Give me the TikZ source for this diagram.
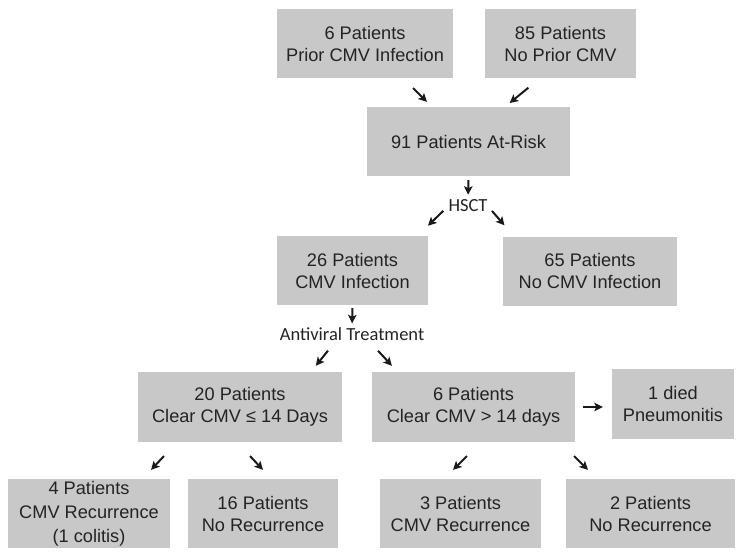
\documentclass[tikz,border=0pt]{standalone}
\usepackage{fontspec}
\setmainfont{Liberation Sans}
\newfontfamily\labelfont{Carlito}
\usetikzlibrary{arrows.meta,positioning}
\definecolor{boxgray}{RGB}{200,200,200}
\definecolor{textgray}{RGB}{35,35,35}
\definecolor{arrowgray}{RGB}{25,25,25}

\begin{document}
\begin{tikzpicture}[x=1pt,y=-1pt,
  box/.style={rectangle, fill=boxgray, text=textgray, align=center, inner sep=0pt,
    minimum height=69pt, font=\fontsize{18.2}{22}\selectfont},
  lbl/.style={inner sep=0pt, text=textgray, font=\labelfont\fontsize{18.5}{22}\selectfont},
  arr/.style={-{Stealth[length=8.5pt,width=8.5pt,inset=2pt]}, line width=2pt, draw=arrowgray}]
\useasboundingbox (0,0) rectangle (744,558);

% top rows
\node[box, minimum width=176pt] (prior) at (365,43.5) {6 Patients\\Prior CMV Infection};
\node[box, minimum width=151pt] (noprior) at (560.5,43.5) {85 Patients\\No Prior CMV};
\node[box, minimum width=203pt] (atrisk) at (468.5,141.5) {91 Patients At-Risk};
\node[lbl] (hsct) at (468,206) {HSCT};
\node[box, minimum width=151pt] (cmvinf) at (352.5,270.5) {26 Patients\\CMV Infection};
\node[box, minimum width=174pt] (nocmv) at (590,271) {65 Patients\\No CMV Infection};
\node[lbl] (antiviral) at (352,334) {Antiviral Treatment};

% clearance
\node[box, minimum width=204pt, minimum height=70pt] (early) at (240,407) {20 Patients\\Clear CMV ≤ 14 Days};
\node[box, minimum width=203pt, minimum height=70pt] (late) at (473.5,407) {6 Patients\\Clear CMV > 14 days};
\node[box, minimum width=122pt, minimum height=70pt] (died) at (673,404) {1 died\\Pneumonitis};

% outcomes
\node[box, minimum width=162pt] (recA) at (89,513.5) {4 Patients\\[2pt]CMV Recurrence\\[2pt](1 colitis)};
\node[box, minimum width=150pt] (norecA) at (263,513.5) {16 Patients\\No Recurrence};
\node[box, minimum width=161pt] (recB) at (460.5,513.5) {3 Patients\\CMV Recurrence};
\node[box, minimum width=169pt] (norecB) at (650.5,513.5) {2 Patients\\No Recurrence};

\draw[arr, shorten <=14pt, shorten >=7pt] ([xshift=38pt]prior.south) -- ([xshift=-36.5pt]atrisk.north);
\draw[arr, shorten <=15pt, shorten >=6pt] ([xshift=-20.5pt]noprior.south) -- ([xshift=36.5pt]atrisk.north);
\draw[arr, shorten <=4pt, shorten >=5pt] (atrisk.south) -- (hsct.north);
\draw[arr, shorten <=7pt, shorten >=14.5pt] (hsct.west) -- ([xshift=65pt]cmvinf.north);
\draw[arr, shorten <=6.5pt, shorten >=14.5pt] (hsct.east) -- ([xshift=-76pt]nocmv.north);
\draw[arr, shorten <=3pt, shorten >=4pt] (cmvinf.south) -- (antiviral.north);
\draw[arr, shorten <=12.8pt, shorten >=7.7pt] ([xshift=-16pt]antiviral.south) -- ([xshift=71pt]early.north);
\draw[arr, shorten <=13.7pt, shorten >=8.2pt] ([xshift=16.7pt]antiviral.south) -- ([xshift=-76pt]late.north);
\draw[arr, shorten <=8pt, shorten >=9pt] (late.east) -- (late.east -| died.west);
\draw[arr, shorten <=19pt, shorten >=12.3pt] ([xshift=-63pt]early.south) -- ([xshift=53.6pt]recA.north);
\draw[arr, shorten <=19pt, shorten >=12.3pt] ([xshift=-3pt]early.south) -- ([xshift=8.4pt]norecA.north);
\draw[arr, shorten <=19.8pt, shorten >=12.7pt] ([xshift=7.5pt]late.south) -- ([xshift=-16.5pt]recB.north);
\draw[arr, shorten <=19.8pt, shorten >=12.7pt] ([xshift=86.5pt]late.south) -- ([xshift=-53.5pt]norecB.north);
\end{tikzpicture}
\end{document}
